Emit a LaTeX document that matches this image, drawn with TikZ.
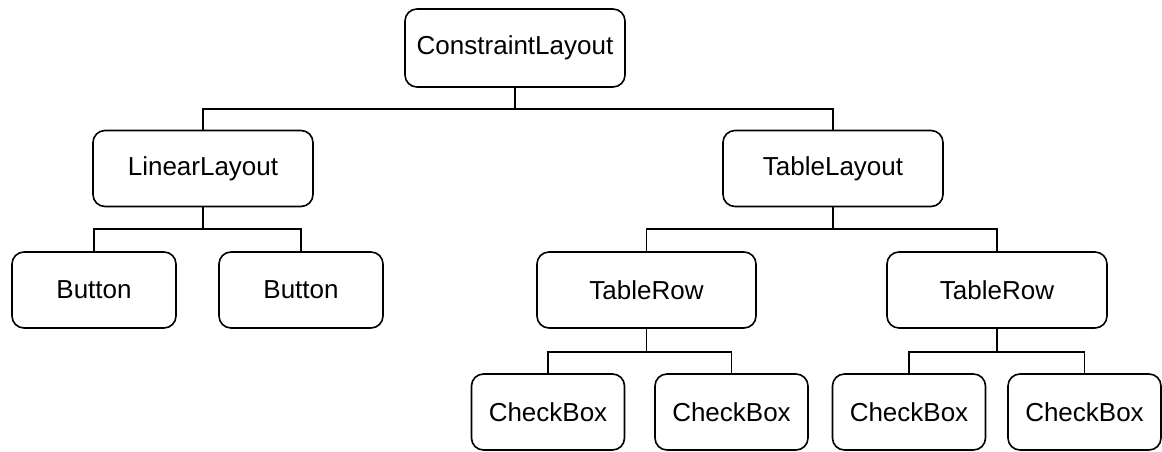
\documentclass[tikz,border=0pt]{standalone}
\usepackage{fontspec}
\setmainfont{Liberation Sans}

\tikzstyle{box}=[draw=black, line width=1.6pt, rounded corners=12pt, font={\fontsize{26}{31}\selectfont}, inner sep=0pt, minimum height=76pt]
\tikzstyle{layout}=[box, minimum width=220pt]
\tikzstyle{widget}=[box, minimum width=164pt]
\tikzstyle{leaf}=[box, minimum width=153pt]
\tikzstyle{link}=[line width=1.8pt]

\begin{document}
\begin{tikzpicture}[x=1pt, y=-1pt]
    \useasboundingbox (0,0) rectangle (1162,451);

    % root
    \node [layout, minimum height=78pt] (constraint) at (515,48) {ConstraintLayout};

    % second level
    \node [layout] (linear) at (203,168.5) {LinearLayout};
    \node [layout] (table)  at (833,168.5) {TableLayout};

    % third level
    \node [widget] (button1) at (94,290)  {Button};
    \node [widget] (button2) at (301,290) {Button};
    \node [layout, minimum width=219pt] (row1) at (646.5,290) {TableRow};
    \node [layout] (row2) at (997,290) {TableRow};

    % leaves
    \node [leaf] (check1) at (548,412)    {CheckBox};
    \node [leaf] (check2) at (731.5,412)  {CheckBox};
    \node [leaf] (check3) at (909,412)    {CheckBox};
    \node [leaf] (check4) at (1084.5,412) {CheckBox};

    % connectors
    \draw [link] (constraint.south) -- ++(0,21) -| (linear.north);
    \draw [link] (constraint.south) -- ++(0,21) -| (table.north);
    \draw [link] (linear.south) -- ++(0,22) -| (button1.north);
    \draw [link] (linear.south) -- ++(0,22) -| (button2.north);
    \draw [link] (table.south) -- ++(0,22) -| (row1.north);
    \draw [link] (table.south) -- ++(0,22) -| (row2.north);
    \draw [link] (row1.south) -- ++(0,23) -| (check1.north);
    \draw [link] (row1.south) -- ++(0,23) -| (check2.north);
    \draw [link] (row2.south) -- ++(0,23) -| (check3.north);
    \draw [link] (row2.south) -- ++(0,23) -| (check4.north);
\end{tikzpicture}
\end{document}
